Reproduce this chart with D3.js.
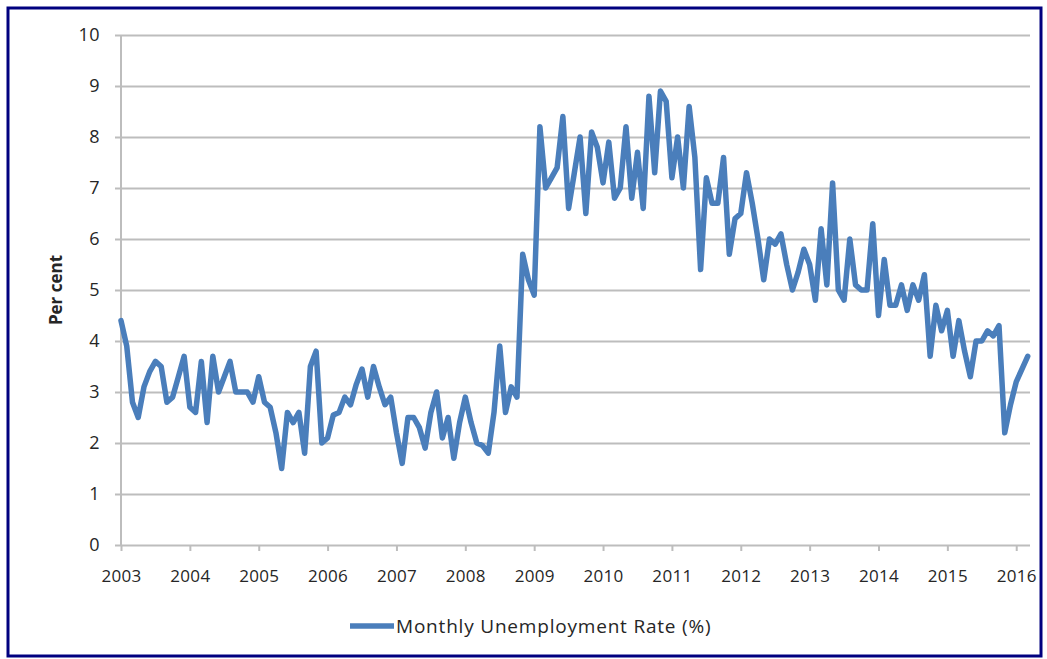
<!DOCTYPE html>
<html>
<head>
<meta charset="utf-8">
<script src="https://cdn.jsdelivr.net/npm/d3@7"></script>
<style>
  body { margin: 0; background: #fff; }
  text { font-family: "Open Sans", Lato, sans-serif; fill: #262626; }
</style>
</head>
<body>
<svg id="chart" width="1047" height="659"></svg>
<script>
// tick labels
const years = ["2003", "2004", "2005", "2006", "2007", "2008", "2009",
               "2010", "2011", "2012", "2013", "2014", "2015", "2016"];
const yTicks = [0, 1, 2, 3, 4, 5, 6, 7, 8, 9, 10];

// monthly unemployment rate (%), Jan..Dec
const rate2003 = [4.4, 3.9, 2.8, 2.5, 3.1, 3.4, 3.6, 3.5, 2.8, 2.9, 3.3, 3.7];
const rate2004 = [2.7, 2.6, 3.6, 2.4, 3.7, 3.0, 3.3, 3.6, 3.0, 3.0, 3.0, 2.8];
const rate2005 = [3.3, 2.8, 2.7, 2.2, 1.5, 2.6, 2.4, 2.6, 1.8, 3.5, 3.8, 2.0];
const rate2006 = [2.1, 2.55, 2.6, 2.9, 2.75, 3.15, 3.45, 2.9, 3.5, 3.1, 2.75, 2.9];
const rate2007 = [2.2, 1.6, 2.5, 2.5, 2.3, 1.9, 2.6, 3.0, 2.1, 2.5, 1.7, 2.4];
const rate2008 = [2.9, 2.4, 2.0, 1.95, 1.8, 2.6, 3.9, 2.6, 3.1, 2.9, 5.7, 5.2];
const rate2009 = [4.9, 8.2, 7.0, 7.2, 7.4, 8.4, 6.6, 7.3, 8.0, 6.5, 8.1, 7.8];
const rate2010 = [7.1, 7.9, 6.8, 7.0, 8.2, 6.8, 7.7, 6.6, 8.8, 7.3, 8.9, 8.7];
const rate2011 = [7.2, 8.0, 7.0, 8.6, 7.6, 5.4, 7.2, 6.7, 6.7, 7.6, 5.7, 6.4];
const rate2012 = [6.5, 7.3, 6.7, 6.0, 5.2, 6.0, 5.9, 6.1, 5.5, 5.0, 5.35, 5.8];
const rate2013 = [5.5, 4.8, 6.2, 5.1, 7.1, 5.0, 4.8, 6.0, 5.1, 5.0, 5.0, 6.3];
const rate2014 = [4.5, 5.6, 4.7, 4.7, 5.1, 4.6, 5.1, 4.8, 5.3, 3.7, 4.7, 4.2];
const rate2015 = [4.6, 3.7, 4.4, 3.8, 3.3, 4.0, 4.0, 4.2, 4.1, 4.3, 2.2, 2.75];
const rate2016 = [3.2, 3.45, 3.7];

const rates = [].concat(rate2003, rate2004, rate2005, rate2006, rate2007,
  rate2008, rate2009, rate2010, rate2011, rate2012, rate2013, rate2014,
  rate2015, rate2016);

const svg = d3.select("#chart");

// frame round the whole picture
svg.append("rect")
  .attr("x", 8).attr("y", 8)
  .attr("width", 1033).attr("height", 648)
  .attr("fill", "none")
  .attr("stroke", "#00007f")
  .attr("stroke-width", 3);

const plotLeft = 121, plotRight = 1030, plotTop = 35, plotBottom = 545;

// months on x, first month at the axis
const x = d3.scaleLinear().domain([0, 158.4]).range([plotLeft, plotRight]);
const y = d3.scaleLinear().domain([0, 10]).range([plotBottom, plotTop]);

// horizontal gridlines + y labels
const yAxis = svg.append("g")
  .attr("transform", `translate(${plotLeft - 6},0)`)
  .call(d3.axisLeft(y).tickValues(yTicks).tickSize(-(plotRight - plotLeft + 6)).tickPadding(15));
yAxis.select(".domain").remove();
yAxis.selectAll("line").attr("stroke", "#bdbdbd").attr("stroke-width", 2);
yAxis.selectAll("text").style("font-size", "18px").style("letter-spacing", "0.5px").attr("fill", "#262626");

// y axis line
svg.append("line")
  .attr("x1", plotLeft).attr("x2", plotLeft)
  .attr("y1", plotTop).attr("y2", plotBottom)
  .attr("stroke", "#bdbdbd").attr("stroke-width", 2);

// x axis: year ticks every 12 months
const xAxis = svg.append("g")
  .attr("transform", `translate(0,${plotBottom})`)
  .call(d3.axisBottom(x)
    .tickValues(years.map((d, i) => i * 12))
    .tickFormat((d, i) => years[i])
    .tickSize(6).tickPadding(19));
xAxis.select(".domain").remove();
xAxis.selectAll("line").attr("stroke", "#bdbdbd").attr("stroke-width", 2);
xAxis.selectAll("text").style("font-size", "17px").style("letter-spacing", "0.3px").attr("fill", "#262626");

// the series
const line = d3.line()
  .x((d, i) => x(i))
  .y(d => y(d));

svg.append("path")
  .datum(rates)
  .attr("d", line)
  .attr("fill", "none")
  .attr("stroke", "#4a7ebb")
  .attr("stroke-width", 5.5)
  .attr("stroke-linejoin", "round")
  .attr("stroke-linecap", "round");

// y title
svg.append("text")
  .attr("transform", "translate(62,290) rotate(-90)")
  .attr("text-anchor", "middle")
  .style("font-size", "17px")
  .style("font-weight", "bold")
  .text("Per cent");

// legend
const legend = svg.append("g").attr("transform", "translate(350,626)");
legend.append("line")
  .attr("x1", 0).attr("x2", 44)
  .attr("stroke", "#4a7ebb").attr("stroke-width", 5.5);
legend.append("text")
  .attr("x", 46).attr("dy", "0.35em")
  .style("font-size", "19px")
  .style("letter-spacing", "0.8px")
  .text("Monthly Unemployment Rate (%)");
</script>
</body>
</html>
